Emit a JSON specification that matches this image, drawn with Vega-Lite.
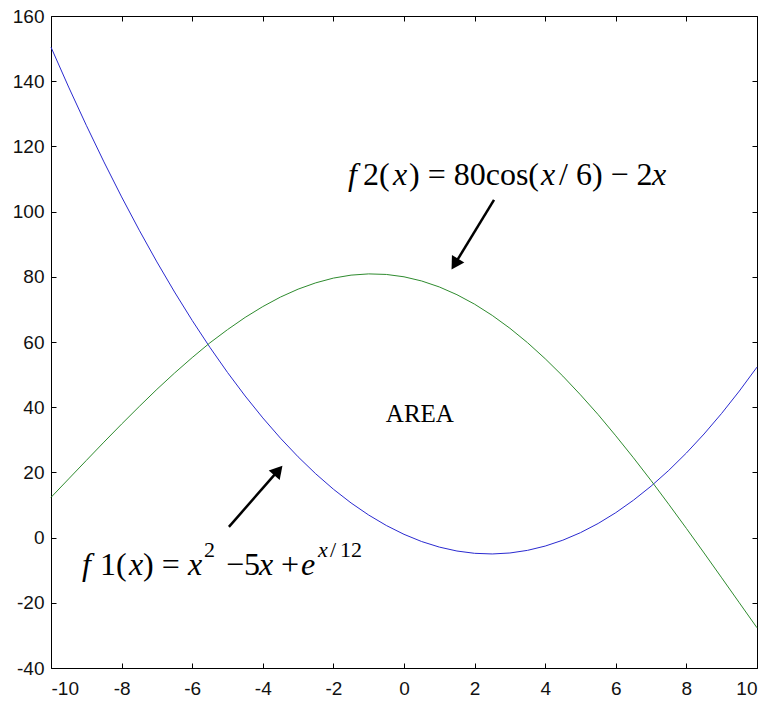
{
  "$schema": "https://vega.github.io/schema/vega-lite/v6.json",
  "width": 706,
  "height": 652,
  "autosize": {"type": "none"},
  "padding": {"left": 51, "top": 16, "right": 10, "bottom": 36},
  "background": "white",
  "config": {
    "view": {"stroke": null},
    "axis": {
      "domainColor": "black", "domainWidth": 1, "tickColor": "black", "tickWidth": 1,
      "labelFont": "Liberation Sans", "labelFontSize": 19, "labelColor": "#111",
      "grid": false, "title": null
    }
  },
  "datasets": {
    "curves": [
      {"x": -10, "f1": 150.43, "f2": 12.34}, {"x": -9.5, "f1": 138.20, "f2": 18.00},
      {"x": -9, "f1": 126.47, "f2": 23.66}, {"x": -8.5, "f1": 115.24, "f2": 29.29},
      {"x": -8, "f1": 104.51, "f2": 34.82}, {"x": -7.5, "f1": 94.29, "f2": 40.22},
      {"x": -7, "f1": 84.56, "f2": 45.48}, {"x": -6.5, "f1": 75.33, "f2": 50.48},
      {"x": -6, "f1": 66.61, "f2": 55.22}, {"x": -5.5, "f1": 58.38, "f2": 59.73},
      {"x": -5, "f1": 50.66, "f2": 63.79}, {"x": -4.5, "f1": 43.44, "f2": 67.54},
      {"x": -4, "f1": 36.72, "f2": 70.87}, {"x": -3.5, "f1": 30.50, "f2": 73.78},
      {"x": -3, "f1": 24.78, "f2": 76.21}, {"x": -2.5, "f1": 19.56, "f2": 78.15},
      {"x": -2, "f1": 14.85, "f2": 79.60}, {"x": -1.5, "f1": 10.63, "f2": 80.51},
      {"x": -1, "f1": 6.92, "f2": 80.89}, {"x": -0.5, "f1": 3.71, "f2": 80.72},
      {"x": 0, "f1": 1.00, "f2": 80.00}, {"x": 0.5, "f1": -1.21, "f2": 78.72},
      {"x": 1, "f1": -2.91, "f2": 76.89}, {"x": 1.5, "f1": -4.12, "f2": 74.51},
      {"x": 2, "f1": -4.82, "f2": 71.60}, {"x": 2.5, "f1": -5.02, "f2": 68.15},
      {"x": 3, "f1": -4.72, "f2": 64.21}, {"x": 3.5, "f1": -3.91, "f2": 59.78},
      {"x": 4, "f1": -2.60, "f2": 54.87}, {"x": 4.5, "f1": -0.79, "f2": 49.54},
      {"x": 5, "f1": 1.52, "f2": 43.79}, {"x": 5.5, "f1": 4.33, "f2": 37.73},
      {"x": 6, "f1": 7.65, "f2": 31.22}, {"x": 6.5, "f1": 11.47, "f2": 24.48},
      {"x": 7, "f1": 15.79, "f2": 17.48}, {"x": 7.5, "f1": 20.62, "f2": 10.22},
      {"x": 8, "f1": 25.95, "f2": 2.82}, {"x": 8.5, "f1": 31.78, "f2": -4.71},
      {"x": 9, "f1": 38.12, "f2": -12.34}, {"x": 9.5, "f1": 44.96, "f2": -20.00},
      {"x": 10, "f1": 52.30, "f2": -27.66}
    ],
    "arrows": [
      {"x": 2.55, "y": 103.6, "x2": 1.44, "y2": 83.9},
      {"x": -4.96, "y": 3.3, "x2": -3.56, "y2": 20.6}
    ],
    "head1": [{"x": 1.44, "y": 83.9}],
    "head2": [{"x": -3.56, "y": 20.6}],
    "uprightText": [
      {"t": "2(", "x": -1.161, "y": 108.2},
      {"t": ") = 80cos(", "x": 0.142, "y": 108.2},
      {"t": "/ 6) − 2", "x": 4.391, "y": 108.2},
      {"t": "1(", "x": -8.612, "y": -11.5},
      {"t": ") =", "x": -7.394, "y": -11.5},
      {"t": "−", "x": -5.042, "y": -11.5},
      {"t": "5", "x": -4.533, "y": -11.5},
      {"t": "+", "x": -3.484, "y": -11.5}
    ],
    "italicText": [
      {"t": "f", "x": -1.586, "y": 108.2},
      {"t": "x", "x": -0.312, "y": 108.2},
      {"t": "x", "x": 3.881, "y": 108.2},
      {"t": "x", "x": 7.025, "y": 108.2},
      {"t": "f", "x": -9.122, "y": -11.5},
      {"t": "x", "x": -7.790, "y": -11.5},
      {"t": "x", "x": -6.119, "y": -11.5},
      {"t": "x", "x": -4.108, "y": -11.5},
      {"t": "e", "x": -2.918, "y": -11.5}
    ],
    "supUpright": [
      {"t": "2", "x": -5.666, "y": -6.0},
      {"t": "/", "x": -2.096, "y": -6.0},
      {"t": "12", "x": -1.813, "y": -6.0}
    ],
    "supItalic": [
      {"t": "x", "x": -2.436, "y": -6.0}
    ],
    "areaText": [{"t": "AREA", "x": 0.45, "y": 35.5}]
  },
  "resolve": {"axis": {"x": "independent", "y": "independent"}},
  "layer": [
    {
      "data": {"name": "curves"},
      "mark": {"type": "line", "color": "#2a2ad0", "strokeWidth": 1},
      "encoding": {
        "x": {"field": "x", "type": "quantitative", "scale": {"domain": [-10, 10], "nice": false},
              "axis": {"orient": "bottom", "values": [-10,-8,-6,-4,-2,0,2,4,6,8,10], "tickSize": -5, "labelPadding": 16,
                       "labelExpr": "datum.value < 0 ? '-' + abs(datum.value) : '' + datum.value"}},
        "y": {"field": "f1", "type": "quantitative", "scale": {"domain": [-40, 160], "nice": false},
              "axis": {"orient": "left", "values": [-40,-20,0,20,40,60,80,100,120,140,160], "tickSize": -5, "labelPadding": 12,
                       "labelExpr": "datum.value < 0 ? '-' + abs(datum.value) : '' + datum.value"}}
      }
    },
    {
      "data": {"name": "curves"},
      "mark": {"type": "line", "color": "#2e8b2e", "strokeWidth": 1},
      "encoding": {
        "x": {"field": "x", "type": "quantitative",
              "axis": {"orient": "top", "values": [-10,-8,-6,-4,-2,0,2,4,6,8,10], "tickSize": -5, "labels": false}},
        "y": {"field": "f2", "type": "quantitative",
              "axis": {"orient": "right", "values": [-40,-20,0,20,40,60,80,100,120,140,160], "tickSize": -5, "labels": false}}
      }
    },
    {
      "data": {"name": "arrows"},
      "mark": {"type": "rule", "color": "black", "strokeWidth": 2.5},
      "encoding": {
        "x": {"field": "x", "type": "quantitative", "axis": null},
        "y": {"field": "y", "type": "quantitative", "axis": null},
        "x2": {"field": "x2"},
        "y2": {"field": "y2"}
      }
    },
    {
      "data": {"name": "head1"},
      "mark": {"type": "point", "shape": "triangle-up", "filled": true, "color": "black", "opacity": 1, "size": 210, "angle": 211.6},
      "encoding": {
        "x": {"field": "x", "type": "quantitative", "axis": null},
        "y": {"field": "y", "type": "quantitative", "axis": null}
      }
    },
    {
      "data": {"name": "head2"},
      "mark": {"type": "point", "shape": "triangle-up", "filled": true, "color": "black", "opacity": 1, "size": 210, "angle": 41},
      "encoding": {
        "x": {"field": "x", "type": "quantitative", "axis": null},
        "y": {"field": "y", "type": "quantitative", "axis": null}
      }
    },
    {
      "data": {"name": "uprightText"},
      "mark": {"type": "text", "font": "Liberation Serif", "fontSize": 32, "align": "left", "baseline": "alphabetic", "color": "black"},
      "encoding": {
        "x": {"field": "x", "type": "quantitative", "axis": null},
        "y": {"field": "y", "type": "quantitative", "axis": null},
        "text": {"field": "t"}
      }
    },
    {
      "data": {"name": "italicText"},
      "mark": {"type": "text", "font": "Liberation Serif", "fontStyle": "italic", "fontSize": 32, "align": "left", "baseline": "alphabetic", "color": "black"},
      "encoding": {
        "x": {"field": "x", "type": "quantitative", "axis": null},
        "y": {"field": "y", "type": "quantitative", "axis": null},
        "text": {"field": "t"}
      }
    },
    {
      "data": {"name": "supUpright"},
      "mark": {"type": "text", "font": "Liberation Serif", "fontSize": 22, "align": "left", "baseline": "alphabetic", "color": "black"},
      "encoding": {
        "x": {"field": "x", "type": "quantitative", "axis": null},
        "y": {"field": "y", "type": "quantitative", "axis": null},
        "text": {"field": "t"}
      }
    },
    {
      "data": {"name": "supItalic"},
      "mark": {"type": "text", "font": "Liberation Serif", "fontStyle": "italic", "fontSize": 22, "align": "left", "baseline": "alphabetic", "color": "black"},
      "encoding": {
        "x": {"field": "x", "type": "quantitative", "axis": null},
        "y": {"field": "y", "type": "quantitative", "axis": null},
        "text": {"field": "t"}
      }
    },
    {
      "data": {"name": "areaText"},
      "mark": {"type": "text", "font": "Liberation Serif", "fontSize": 25, "align": "center", "baseline": "alphabetic", "color": "black"},
      "encoding": {
        "x": {"field": "x", "type": "quantitative", "axis": null},
        "y": {"field": "y", "type": "quantitative", "axis": null},
        "text": {"field": "t"}
      }
    }
  ]
}
